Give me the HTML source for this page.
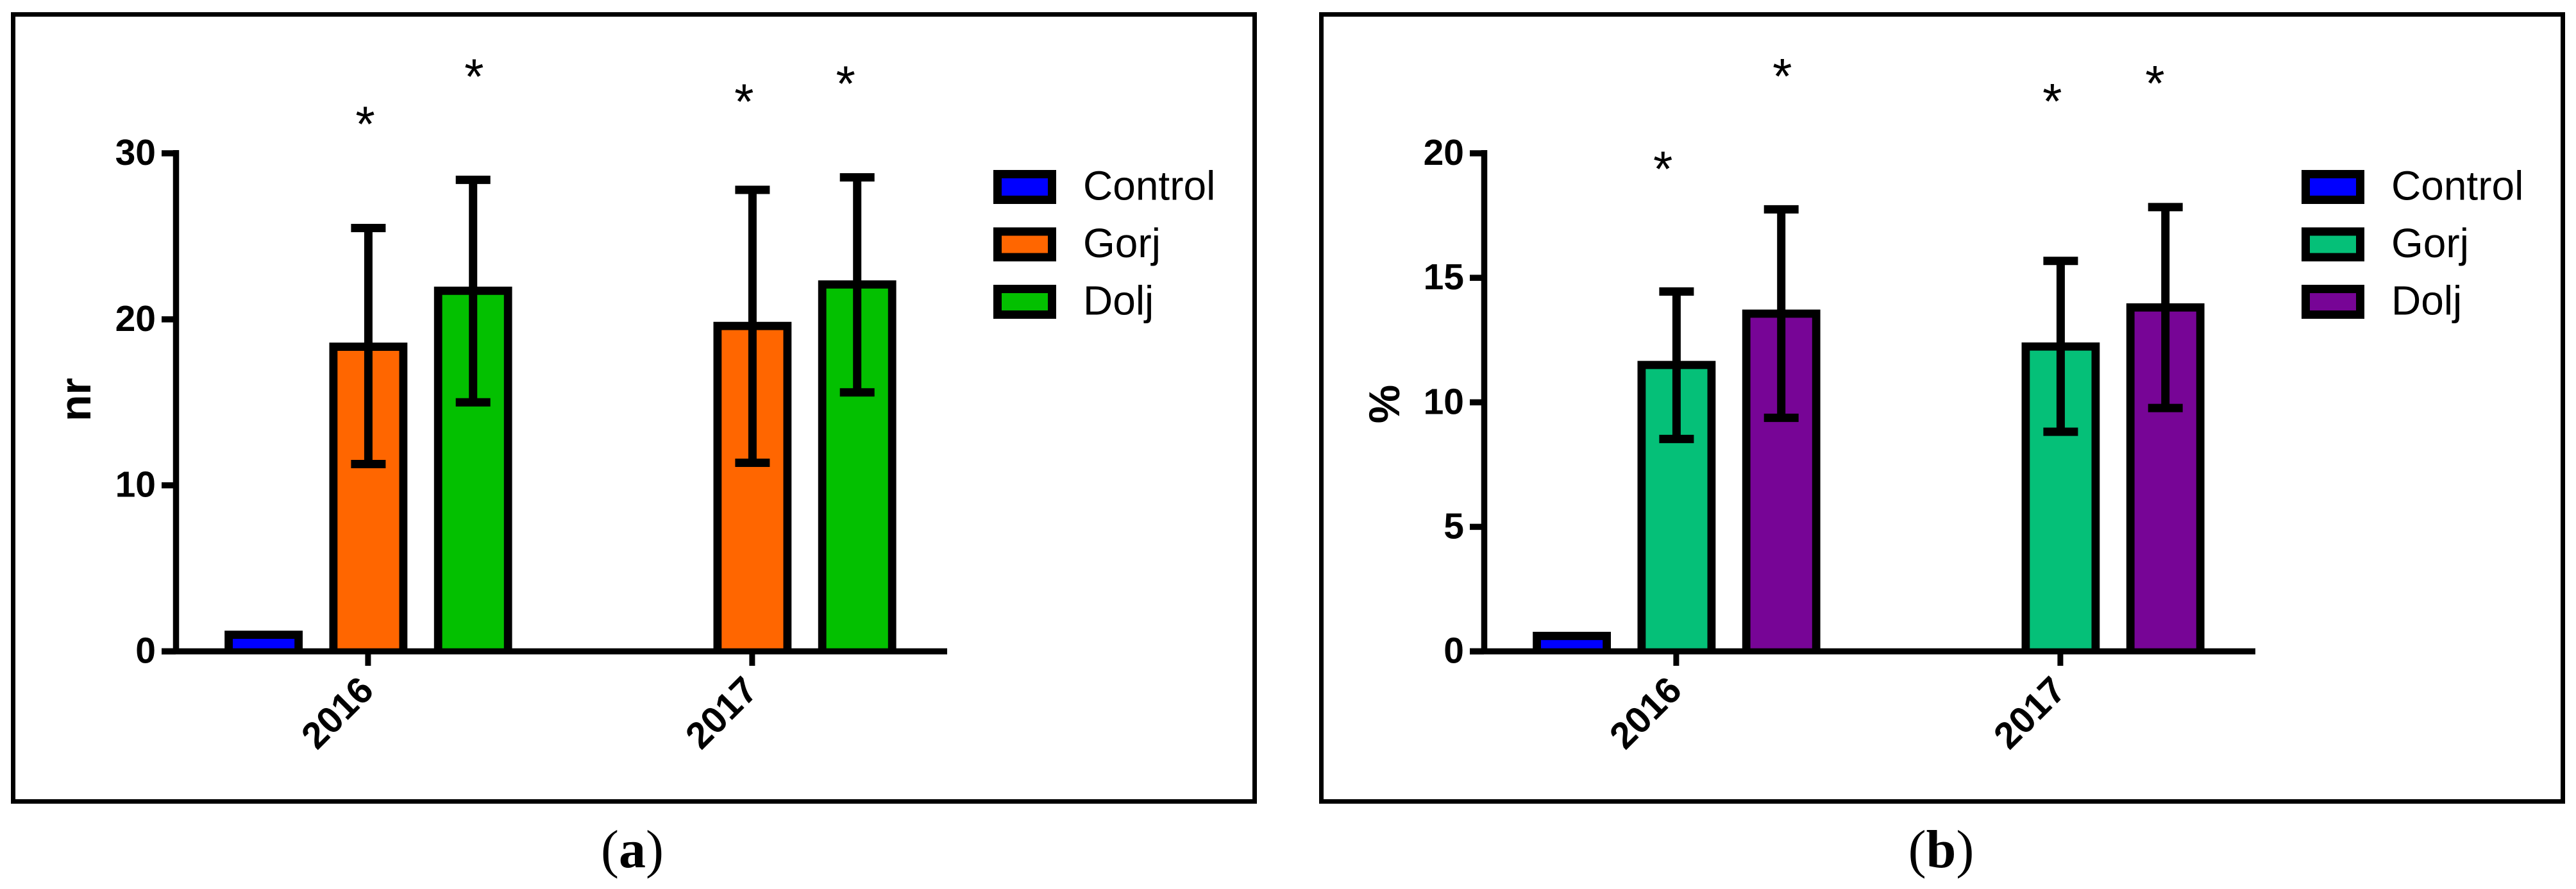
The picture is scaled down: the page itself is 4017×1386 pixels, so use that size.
<!DOCTYPE html>
<html lang="en">
<head>
<meta charset="utf-8">
<title>Control, Gorj and Dolj bar charts for 2016 and 2017</title>
<style>
  html, body { margin: 0; padding: 0; background: #fff; }
  #figure { display: block; width: 4017px; height: 1386px; background: #fff; }
  text { fill: #000; font-family: "Liberation Sans", Arial, sans-serif; }
  .caption { font-family: "Liberation Serif", "Times New Roman", serif; font-size: 84px; }
  .caption tspan { font-weight: bold; }
</style>
</head>
<body>
<svg id="figure" xmlns="http://www.w3.org/2000/svg" width="4017" height="1386" viewBox="0 0 4017 1386">
  <text class="caption" x="986" y="1352" text-anchor="middle">(<tspan>a</tspan>)</text>
  <text class="caption" x="3027" y="1352" text-anchor="middle">(<tspan>b</tspan>)</text>
</svg>
<script>
// Shared categories and series names
const categories = ['2016', '2017'];
const seriesNames = ['Control', 'Gorj', 'Dolj'];

// Panel (a): nr
const aTickLabels = ['0', '10', '20', '30'];
const aTickValues = [0, 10, 20, 30];
const aAxisMax = 30;
const aControl = [1.0, 0];
const aGorj = [18.35, 19.6];
const aDolj = [21.72, 22.1];
const aGorjUpper = [25.5, 27.8];
const aGorjLower = [11.28, 11.36];
const aDoljUpper = [28.4, 28.55];
const aDoljLower = [15.0, 15.6];
const aGorjStarLevel = [32.2, 33.56];
const aDoljStarLevel = [35.07, 34.64];
const aGorjStarShift = [-0.03, -0.08];
const aDoljStarShift = [0.01, -0.11];

// Panel (b): %
const bTickLabels = ['0', '5', '10', '15', '20'];
const bTickValues = [0, 5, 10, 15, 20];
const bAxisMax = 20;
const bControl = [0.62, 0];
const bGorj = [11.5, 12.24];
const bDolj = [13.56, 13.81];
const bGorjUpper = [14.45, 15.68];
const bGorjLower = [8.53, 8.82];
const bDoljUpper = [17.75, 17.84];
const bDoljLower = [9.38, 9.77];
const bGorjStarLevel = [19.67, 22.38];
const bDoljStarLevel = [23.39, 23.1];
const bGorjStarShift = [-0.13, -0.08];
const bDoljStarShift = [0.01, -0.1];

const svg = document.getElementById('figure');
const NS = 'http://www.w3.org/2000/svg';

function make(tag, attrs, parent) {
  const node = document.createElementNS(NS, tag);
  for (const key in attrs) node.setAttribute(key, attrs[key]);
  parent.appendChild(node);
  return node;
}

function drawPanel(p) {
  const AXIS_Y0 = 1015.5;
  const AXIS_LEN = 776.5;
  const yScale = v => AXIS_Y0 - v * AXIS_LEN / p.max;
  const groupX = g => p.dx + 574.4 + g * 599;
  const slotX = (g, s) => groupX(g) + (s - 1) * 163.3;

  const panel = make('g', {}, svg);
  
  

  const frame = make('rect', { x: p.dx + 20.5, y: 22.5, width: 1936, height: 1227, fill: 'none', stroke: '#000', 'stroke-width': 7 }, panel);
  
  

  // Bars
  p.series.forEach((values, s) => {
    values.forEach((v, g) => {
      const cx = slotX(g, s);
      const top = yScale(v);
      const fill = make('rect', { x: cx - 54.5, y: top, width: 109, height: AXIS_Y0 - top, fill: p.colors[s] }, panel);
      
      
      if (v > 0) {
        const outline = make('path', {
          d: 'M' + (cx - 54.5) + ' ' + AXIS_Y0 + 'V' + top + 'H' + (cx + 54.5) + 'V' + AXIS_Y0,
          fill: 'none', stroke: '#000', 'stroke-width': 12.8, 'stroke-linejoin': 'miter'
        }, panel);
        
        
      }
    });
  });

  // Error bars
  p.errors.forEach(err => {
    err.upper.forEach((hi, g) => {
      const cx = slotX(g, err.slot);
      const yHi = yScale(hi);
      const yLo = yScale(err.lower[g]);
      const stem = make('line', { x1: cx, x2: cx, y1: yHi, y2: yLo, stroke: '#000', 'stroke-width': 13 }, panel);
      
      
      const capHi = make('line', { x1: cx - 27, x2: cx + 27, y1: yHi, y2: yHi, stroke: '#000', 'stroke-width': 13 }, panel);
      
      
      const capLo = make('line', { x1: cx - 27, x2: cx + 27, y1: yLo, y2: yLo, stroke: '#000', 'stroke-width': 13 }, panel);
      
      
    });
  });

  // Significance stars
  p.stars.forEach(st => {
    st.level.forEach((lv, g) => {
      const star = make('text', {
        x: slotX(g, st.slot) + st.shift[g] * 163.3,
        y: yScale(lv) + 38,
        'font-size': 78,
        'text-anchor': 'middle'
      }, panel);
      star.textContent = '*';
      
      
    });
  });

  // Y axis
  const yAxis = make('line', { x1: p.dx + 274.5, x2: p.dx + 274.5, y1: yScale(p.max) - 5, y2: AXIS_Y0, stroke: '#000', 'stroke-width': 9.5 }, panel);
  
  
  p.tickValues.forEach((t, i) => {
    const tick = make('line', { x1: p.dx + 252, x2: p.dx + 274, y1: yScale(t), y2: yScale(t), stroke: '#000', 'stroke-width': 9.5 }, panel);
    
    
    const label = make('text', { x: p.dx + 243, y: yScale(t) + 18, 'font-size': 57, 'font-weight': 'bold', 'text-anchor': 'end' }, panel);
    label.textContent = p.tickLabels[i];
    
    
  });

  // X axis
  const xAxis = make('line', { x1: p.dx + 252, x2: p.dx + 1477, y1: AXIS_Y0, y2: AXIS_Y0, stroke: '#000', 'stroke-width': 9.5 }, panel);
  
  
  categories.forEach((c, g) => {
    const cx = groupX(g) - 0.5;
    const tick = make('line', { x1: cx, x2: cx, y1: AXIS_Y0, y2: 1038, stroke: '#000', 'stroke-width': 9 }, panel);
    
    
    const label = make('text', {
      transform: 'translate(' + (cx - 48) + ' 1111) rotate(-45)',
      y: 20, 'font-size': 58, 'font-weight': 'bold', 'text-anchor': 'middle'
    }, panel);
    label.textContent = c;
    
    
  });

  // Y axis title
  const title = make('text', {
    transform: 'translate(' + (p.dx + p.titleX) + ' ' + p.titleY + ') rotate(-90)',
    'font-size': 68, 'font-weight': 'bold', 'text-anchor': 'middle'
  }, panel);
  title.textContent = p.title;
  
  

  // Legend
  seriesNames.forEach((n, s) => {
    const cy = 291.5 + s * 89.5;
    const swatch = make('rect', { x: p.dx + 1555.5, y: cy - 20, width: 85, height: 40, fill: p.colors[s], stroke: '#000', 'stroke-width': 13 }, panel);
    
    
    const label = make('text', { x: p.dx + 1689, y: cy + 20, 'font-size': 64 }, panel);
    label.textContent = n;
    
    
  });
}

drawPanel({
  name: 'chart-a',
  dx: 0,
  max: aAxisMax,
  title: 'nr',
  titleX: 141,
  titleY: 623,
  tickValues: aTickValues,
  tickLabels: aTickLabels,
  colors: ['#0000ff', '#ff6600', '#03c000'],
  series: [aControl, aGorj, aDolj],
  errors: [
    { slot: 1, upper: aGorjUpper, lower: aGorjLower },
    { slot: 2, upper: aDoljUpper, lower: aDoljLower }
  ],
  stars: [
    { slot: 1, level: aGorjStarLevel, shift: aGorjStarShift },
    { slot: 2, level: aDoljStarLevel, shift: aDoljStarShift }
  ]
});

drawPanel({
  name: 'chart-b',
  dx: 2040,
  max: bAxisMax,
  title: '%',
  titleX: 142,
  titleY: 630,
  tickValues: bTickValues,
  tickLabels: bTickLabels,
  colors: ['#0000ff', '#05c078', '#770596'],
  series: [bControl, bGorj, bDolj],
  errors: [
    { slot: 1, upper: bGorjUpper, lower: bGorjLower },
    { slot: 2, upper: bDoljUpper, lower: bDoljLower }
  ],
  stars: [
    { slot: 1, level: bGorjStarLevel, shift: bGorjStarShift },
    { slot: 2, level: bDoljStarLevel, shift: bDoljStarShift }
  ]
});
</script>
</body>
</html>
